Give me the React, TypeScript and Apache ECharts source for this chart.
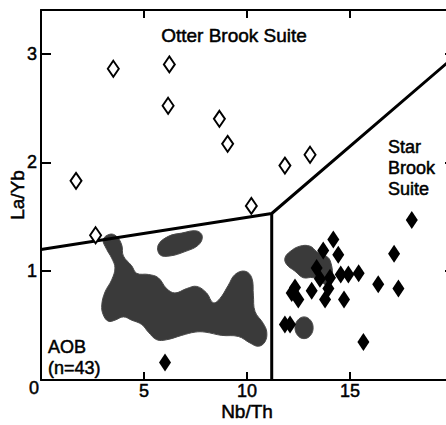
import React, { useEffect, useRef } from 'react';
import * as echarts from 'echarts';

const FONT = '"Liberation Sans", Arial, Helvetica, sans-serif';

// Axis ranges
const X_MIN = 0;
const X_MAX = 20;
const X_STEP = 5;
const Y_MIN = 0;
const Y_MAX = 3.4;
const Y_STEP = 1;

// Otter Brook Suite samples (open diamonds): [Nb/Th, La/Yb]
const otterBrook: [number, number][] = [
  [1.7, 1.83], [2.65, 1.33], [3.51, 2.86], [6.23, 2.9], [6.17, 2.52],
  [8.66, 2.4], [9.06, 2.17], [10.21, 1.6], [11.84, 1.97], [13.06, 2.07],
];

// Star Brook Suite samples (filled diamonds)
const starBrook: [number, number][] = [
  [18.0, 1.47], [17.14, 1.16], [17.35, 0.84], [16.37, 0.88], [15.42, 0.98],
  [15.65, 0.35], [14.71, 0.74], [14.92, 0.97], [14.55, 0.97], [14.19, 1.29],
  [14.43, 1.15], [13.7, 1.19], [13.38, 1.03], [14.03, 0.94], [13.95, 0.84],
  [13.79, 0.74], [13.54, 0.93], [13.14, 0.82], [12.33, 0.85], [12.49, 0.74],
  [12.17, 0.8], [11.84, 0.51], [12.09, 0.51], [6.02, 0.16],
];

// Field boundaries
const upperBoundary: [number, number][] = [[0, 1.2], [11.2, 1.53], [20, 2.96]];
const divider: [number, number][] = [[11.2, 0], [11.2, 1.53]];

// AOB field (n=43) outlines
const aobMain: [number, number][] = [
  [3.02, 1.29], [3.35, 1.34], [3.67, 1.32], [3.92, 1.24], [4.0, 1.14], [4.4, 1.05],
  [4.65, 0.98], [5.21, 0.97], [5.69, 0.94], [6.1, 0.84], [6.5, 0.8], [7.07, 0.84],
  [7.56, 0.86], [8.04, 0.8], [8.36, 0.71], [8.69, 0.75], [9.09, 0.87], [9.42, 0.97],
  [9.9, 1.0], [10.23, 0.94], [10.31, 0.78], [10.39, 0.63], [10.79, 0.52], [10.96, 0.44],
  [10.87, 0.35], [10.55, 0.31], [10.15, 0.34], [9.58, 0.4], [8.77, 0.41], [7.96, 0.44],
  [7.48, 0.44], [6.83, 0.41], [6.1, 0.37], [5.62, 0.37], [5.21, 0.44], [4.89, 0.51],
  [4.4, 0.55], [4.0, 0.58], [3.59, 0.55], [3.27, 0.54], [3.02, 0.6], [2.95, 0.69],
  [3.11, 0.81], [3.43, 0.92], [3.59, 1.03], [3.43, 1.12], [3.19, 1.2],
];
const aobUpper: [number, number][] = [
  [5.69, 1.24], [6.18, 1.32], [6.83, 1.35], [7.56, 1.37], [7.83, 1.32],
  [7.64, 1.24], [6.99, 1.18], [6.26, 1.14], [5.78, 1.15],
];
const aobRight: [number, number][] = [
  [11.84, 1.12], [12.09, 1.18], [12.57, 1.23], [13.06, 1.23], [13.38, 1.18],
  [14.03, 1.1], [14.03, 0.87], [13.22, 0.94], [12.73, 0.94], [12.33, 1.0], [11.93, 1.06],
];
const aobSmall: [number, number][] = [
  [12.77, 0.58], [13.08, 0.55], [13.21, 0.48], [13.08, 0.41], [12.77, 0.38],
  [12.46, 0.41], [12.33, 0.48], [12.46, 0.55],
];
const aobFields = [aobMain, aobUpper, aobRight, aobSmall];

// slight outline on glyphs to give the heavier print look
const INK = { textBorderColor: '#000', textBorderWidth: 0.5 };

export default function App() {
  const ref = useRef<HTMLDivElement>(null);

  useEffect(() => {
    if (!ref.current) return;
    const chart = echarts.init(ref.current, null, { renderer: 'svg' });

    const axisLine = { show: true, onZero: false, lineStyle: { color: '#000', width: 2 } };
    const tickStyle = { color: '#000', width: 2 };
    const textStyle = (size: number) => ({ fill: '#000', font: `${size}px ${FONT}`, stroke: '#000', lineWidth: 0.5 });

    chart.setOption({
      animation: false,
      backgroundColor: '#fff',
      textStyle: { fontFamily: FONT },
      grid: { left: 41, right: -7, top: 10, bottom: 45, containLabel: false, outerBoundsMode: 'none' },
      xAxis: [
        {
          type: 'value', min: X_MIN, max: X_MAX, interval: X_STEP,
          position: 'bottom',
          name: 'Nb/Th', nameLocation: 'middle', nameGap: 22, nameMoveOverlap: false,
          nameTextStyle: { color: '#000', fontSize: 19, lineHeight: 19, fontFamily: FONT, ...INK },
          axisLine,
          axisTick: { show: true, inside: true, length: 8, lineStyle: tickStyle },
          axisLabel: {
            color: '#000', fontSize: 18, lineHeight: 16, fontFamily: FONT, margin: 3, ...INK,
            showMinLabel: false, showMaxLabel: false,
          },
          splitLine: { show: false },
        },
        {
          type: 'value', min: X_MIN, max: X_MAX, interval: X_STEP,
          position: 'top',
          axisLine,
          axisTick: { show: true, inside: true, length: 8, lineStyle: tickStyle },
          axisLabel: { show: false },
          splitLine: { show: false },
        },
      ],
      yAxis: [
        {
          type: 'value', min: Y_MIN, max: Y_MAX, interval: Y_STEP,
          position: 'left',
          name: 'La/Yb', nameLocation: 'middle', nameGap: 14, nameMoveOverlap: false,
          nameTextStyle: { color: '#000', fontSize: 19, fontFamily: FONT, ...INK },
          axisLine,
          axisTick: { show: true, inside: true, length: 10, lineStyle: tickStyle },
          axisLabel: {
            color: '#000', fontSize: 18, fontFamily: FONT, margin: 4, ...INK,
            showMinLabel: false, showMaxLabel: false,
          },
          splitLine: { show: false },
        },
        {
          type: 'value', min: Y_MIN, max: Y_MAX, interval: Y_STEP,
          position: 'right',
          axisLine,
          axisTick: { show: true, inside: true, length: 8, lineStyle: tickStyle },
          axisLabel: { show: false },
          splitLine: { show: false },
        },
      ],
      graphic: [
        {
          type: 'text', x: 34, y: 388, z: 100,
          style: { text: '0', ...textStyle(18), textAlign: 'center', textVerticalAlign: 'middle' },
        },
        {
          type: 'text', x: 234, y: 35, z: 100,
          style: { text: 'Otter Brook Suite', ...textStyle(19), textAlign: 'center', textVerticalAlign: 'middle' },
        },
        {
          type: 'text', x: 388, y: 136, z: 100,
          style: { text: 'Star\nBrook\nSuite', ...textStyle(18), lineHeight: 21, textAlign: 'left', textVerticalAlign: 'top' },
        },
        {
          type: 'text', x: 48, y: 336, z: 100,
          style: { text: 'AOB\n(n=43)', ...textStyle(18), lineHeight: 21, textAlign: 'left', textVerticalAlign: 'top' },
        },
      ],
      series: [
        {
          type: 'custom',
          name: 'AOB field',
          xAxisIndex: 0, yAxisIndex: 0,
          z: 1,
          silent: true,
          data: aobFields.map((f) => f[0]),
          renderItem: (params: any, api: any) => {
            const outline = aobFields[params.dataIndex];
            const points = outline.map((p) => api.coord(p));
            return {
              type: 'polygon',
              shape: { points, smooth: 0.4 },
              style: { fill: '#3a3a3a', stroke: '#4a4a4a', lineWidth: 1 },
            };
          },
        },
        {
          type: 'line', name: 'boundary', data: upperBoundary,
          xAxisIndex: 0, yAxisIndex: 0, z: 3,
          symbol: 'none', lineStyle: { color: '#000', width: 3 },
          silent: true,
        },
        {
          type: 'line', name: 'divider', data: divider,
          xAxisIndex: 0, yAxisIndex: 0, z: 3,
          symbol: 'none', lineStyle: { color: '#000', width: 3 },
          silent: true,
        },
        {
          type: 'scatter', name: 'Otter Brook Suite', data: otterBrook,
          xAxisIndex: 0, yAxisIndex: 0, z: 5,
          symbol: 'diamond', symbolSize: [11, 16],
          itemStyle: { color: '#fff', borderColor: '#000', borderWidth: 2, opacity: 1 },
        },
        {
          type: 'scatter', name: 'Star Brook Suite', data: starBrook,
          xAxisIndex: 0, yAxisIndex: 0, z: 5,
          symbol: 'diamond', symbolSize: [12, 18],
          itemStyle: { color: '#000', opacity: 1 },
        },
      ],
    });

    return () => chart.dispose();
  }, []);

  return (
    <div
      ref={ref}
      style={{ position: 'fixed', left: 0, top: 0, width: 446, height: 425, background: '#fff' }}
    />
  );
}
